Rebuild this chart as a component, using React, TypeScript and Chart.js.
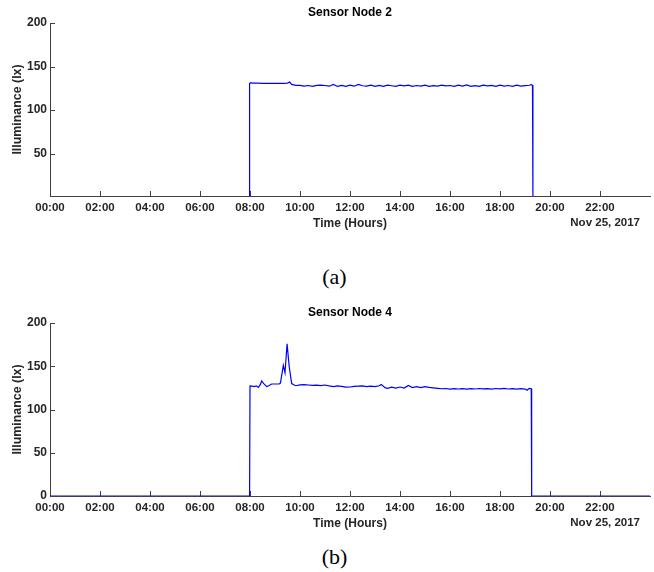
import React, { useEffect, useRef } from "react";
import { Chart, registerables } from "chart.js";

Chart.register(...registerables);

// ---------- data ----------
const hourTicks = [0, 2, 4, 6, 8, 10, 12, 14, 16, 18, 20, 22];
const yTicksTop = [50, 100, 150, 200];
const yTicksBottom = [0, 50, 100, 150, 200];
const dateLabel = "Nov 25, 2017";
const titleA = "Sensor Node 2";
const titleB = "Sensor Node 4";

// minutes after midnight
const node2Minutes = [
  0, 478, 479, 482, 486, 490, 500, 510, 520, 530, 540, 550, 560, 570, 575, 580, 590,
  600, 610, 620, 630, 640, 650, 660, 670, 680, 690, 700, 710, 720, 730, 740, 750,
  760, 770, 780, 790, 800, 810, 820, 830, 840, 850, 860, 870, 880, 890, 900, 910,
  920, 930, 940, 950, 960, 970, 980, 990, 1000, 1010, 1020, 1030, 1040, 1050, 1060,
  1070, 1080, 1090, 1100, 1110, 1120, 1130, 1140, 1150, 1155, 1158, 1159, 1440,
];
const node2Lux = [
  0, 0, 130.5, 131.5, 131, 131, 131, 130.8, 130.8, 130.8, 130.8, 130.8, 130.8, 131, 132.3, 129.5, 128.5,
  128.5, 127.5, 128.3, 127.2, 128.5, 128.8, 128.3, 127.5, 129.5, 127.2, 128.3, 127.3, 128.6, 127.5, 129.6, 128,
  127.5, 128.7, 127.4, 128.4, 127.2, 128.6, 128, 127.3, 128.7, 127.8, 128.6, 127.3, 128.3, 127.6, 128.8, 127.4,
  128.2, 127.5, 128.7, 127.8, 128.3, 127.3, 128.6, 127.6, 128.9, 127.4, 128.2, 127.3, 128.6, 127.8, 128.4,
  127.2, 128.6, 127.5, 128.3, 127.4, 128.7, 127.5, 128.2, 128.6, 129.2, 128.5, 0, 0,
];

const node4Minutes = [
  0, 479, 480, 485, 490, 495, 500, 505, 508, 513, 520, 525, 532, 540, 550, 553, 560, 564, 569, 574, 580, 586,
  590, 600, 610, 620, 630, 640, 650, 660, 670, 680, 690, 700, 710, 720, 730, 740, 750, 760, 770, 780,
  790, 795, 805, 810, 820, 830, 840, 850, 860, 870, 880, 890, 900, 910, 920, 930, 940, 950, 960, 970,
  980, 990, 1000, 1010, 1020, 1030, 1040, 1050, 1060, 1070, 1080, 1090, 1100, 1110, 1120, 1130, 1140,
  1145, 1150, 1155, 1156, 1440,
];
const node4Lux = [
  0, 0, 127.2, 127, 126.5, 127.3, 125.5, 129, 133, 130, 126.5, 127.5, 129.5, 129.5, 129.5, 130.5, 151, 142.5, 176, 150, 130, 128.3,
  127.5, 128.5, 128.8, 128.3, 127.8, 128.2, 127.5, 128.3, 127.3, 126.5, 127.2, 126.8, 125.8, 126, 126.8, 127, 127.3, 126.5, 127, 126.5,
  127.5, 129, 125, 124.5, 125.8, 124.8, 126, 124.8, 127.8, 125.3, 126.5, 125.3, 126.5, 125.5, 125, 124.5, 124, 124.3, 123.6, 124.2,
  123.7, 124.2, 123.6, 124.1, 123.7, 124.3, 123.8, 124.2, 123.6, 124.3, 123.8, 124.4, 123.7, 124.2, 123.6, 124.2, 123.6,
  122.2, 124.5, 124, 0, 0,
];

// ---------- styling ----------
const FONT = '"Liberation Sans", Arial, Helvetica, sans-serif';
const AXIS_COLOR = "#404040";
const TEXT_COLOR = "#262626";
const LINE_COLOR = "#0000ff";
const CANVAS_W = 654;
const CANVAS_H = 240;

type Props = {
  title: string;
  minutes: number[];
  lux: number[];
  yMin: number;
  yTicks: number[];
  clip: number | undefined;
};

function SensorChart({ title, minutes, lux, yMin, yTicks, clip }: Props) {
  const ref = useRef<HTMLCanvasElement | null>(null);

  useEffect(() => {
    if (!ref.current) return;
    const points = minutes.map((m, i) => ({ x: m / 60, y: lux[i] }));

    const decor = {
      id: "decor",
      beforeDatasetsDraw(chart: any) {
        const ctx = chart.ctx;
        const { left, bottom } = chart.chartArea;
        const xs = chart.scales.x;
        const ys = chart.scales.y;
        ctx.save();
        ctx.strokeStyle = AXIS_COLOR;
        ctx.lineWidth = 1;
        ctx.beginPath();
        xs.ticks.forEach((t: any) => {
          const px = Math.round(xs.getPixelForValue(t.value)) + 0.5;
          ctx.moveTo(px, bottom);
          ctx.lineTo(px, bottom - 5);
        });
        ys.ticks.forEach((t: any) => {
          const py = Math.round(ys.getPixelForValue(t.value)) + 0.5;
          ctx.moveTo(left, py);
          ctx.lineTo(left + 5, py);
        });
        ctx.stroke();
        ctx.restore();
      },
      afterDraw(chart: any) {
        const ctx = chart.ctx;
        const { left, right } = chart.chartArea;
        ctx.save();
        ctx.fillStyle = "#000000";
        ctx.font = `bold 12px ${FONT}`;
        ctx.textAlign = "center";
        ctx.textBaseline = "middle";
        ctx.fillText(title, (left + right) / 2, 13);
        ctx.fillStyle = TEXT_COLOR;
        ctx.font = `bold 11.5px ${FONT}`;
        ctx.textAlign = "right";
        ctx.fillText(dateLabel, 640, 223);
        ctx.restore();
      },
    };

    const chart = new Chart(ref.current, {
      type: "line",
      data: {
        datasets: [
          {
            data: points,
            borderColor: LINE_COLOR,
            borderWidth: 1.2,
            pointRadius: 0,
            tension: 0,
            fill: false,
            clip: clip as any,
          },
        ],
      },
      options: {
        animation: false,
        responsive: false,
        devicePixelRatio: 1,
        parsing: false,
        layout: { padding: { left: 0, right: 4, top: 23, bottom: 0 } },
        plugins: {
          legend: { display: false },
          tooltip: { enabled: false },
          title: { display: false },
        },
        scales: {
          x: {
            type: "linear",
            min: 0,
            max: 24,
            afterBuildTicks: (scale: any) => {
              scale.ticks = hourTicks.map((v) => ({ value: v }));
            },
            afterFit: (scale: any) => {
              scale.height = 44;
            },
            grid: { display: true, drawOnChartArea: false, drawTicks: false },
            border: { display: true, color: AXIS_COLOR, width: 1 },
            ticks: {
              autoSkip: false,
              maxRotation: 0,
              padding: 5,
              color: TEXT_COLOR,
              font: { family: FONT, size: 11.5, weight: "bold" },
              callback: (v: any) => `${String(v).padStart(2, "0")}:00`,
            },
            title: {
              display: true,
              text: "Time (Hours)",
              color: TEXT_COLOR,
              font: { family: FONT, size: 12, weight: "bold" },
              padding: { top: 9, bottom: 9 },
            },
          },
          y: {
            type: "linear",
            min: yMin,
            max: 200,
            afterBuildTicks: (scale: any) => {
              scale.ticks = yTicks.map((v) => ({ value: v }));
            },
            afterFit: (scale: any) => {
              scale.width = 50;
            },
            grid: { display: true, drawOnChartArea: false, drawTicks: false },
            border: { display: true, color: AXIS_COLOR, width: 1 },
            ticks: {
              padding: 3,
              color: TEXT_COLOR,
              font: { family: FONT, size: 12, weight: "bold" },
            },
            title: {
              display: true,
              text: "Illuminance (lx)",
              color: TEXT_COLOR,
              font: { family: FONT, size: 12.4, weight: "bold" },
              padding: { top: 10, bottom: 10 },
            },
          },
        },
      },
      plugins: [decor],
    } as any);

    return () => chart.destroy();
  }, [title, minutes, lux, yMin, yTicks, clip]);

  return (
    <canvas
      ref={ref}
      width={CANVAS_W}
      height={CANVAS_H}
      style={{ width: CANVAS_W, height: CANVAS_H, display: "block" }}
    />
  );
}

const captionStyle: React.CSSProperties = {
  position: "absolute",
  left: 0,
  width: 669,
  textAlign: "center",
  fontFamily: '"Liberation Serif", "Times New Roman", serif',
  fontSize: 22,
  lineHeight: "26px",
  color: "#000",
};

export default function App() {
  return (
    <div
      style={{
        position: "absolute",
        left: 0,
        top: 0,
        width: 654,
        height: 572,
        background: "#ffffff",
        overflow: "hidden",
      }}
    >
      <div style={{ position: "absolute", left: 0, top: 0 }}>
        <SensorChart title={titleA} minutes={node2Minutes} lux={node2Lux} yMin={1.5} yTicks={yTicksTop} clip={0} />
      </div>
      <div style={{ ...captionStyle, top: 264 }}>(a)</div>
      <div style={{ position: "absolute", left: 0, top: 300 }}>
        <SensorChart title={titleB} minutes={node4Minutes} lux={node4Lux} yMin={0} yTicks={yTicksBottom} clip={undefined} />
      </div>
      <div style={{ ...captionStyle, top: 544 }}>(b)</div>
    </div>
  );
}
